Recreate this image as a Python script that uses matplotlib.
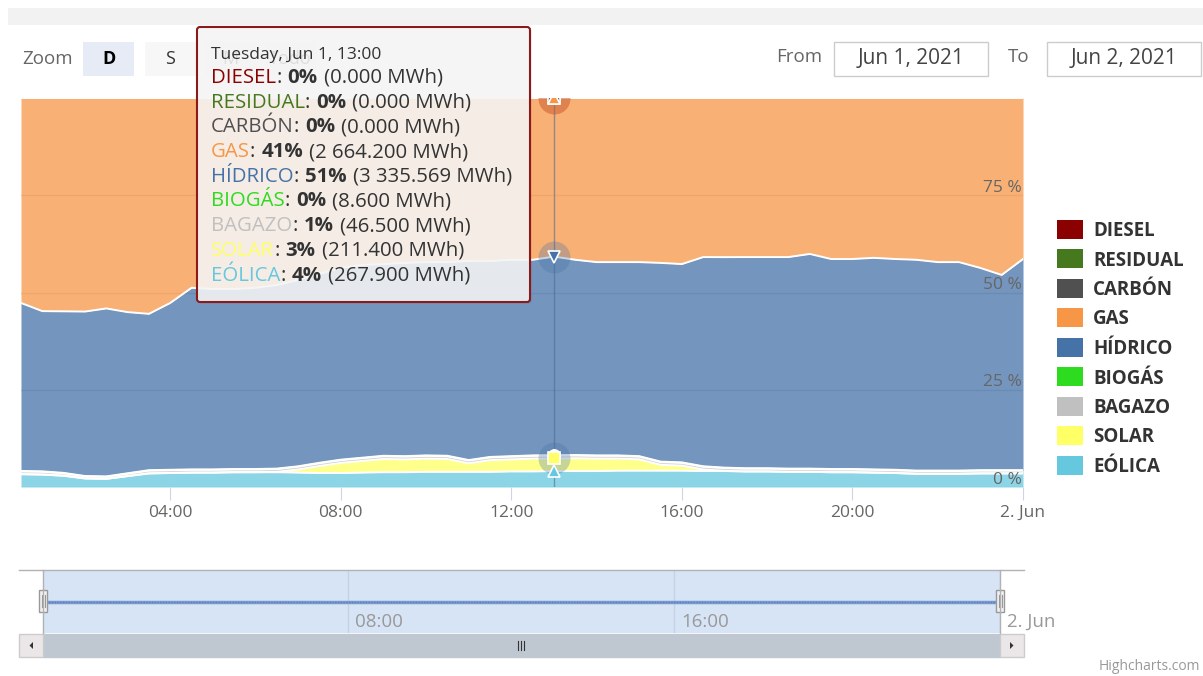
import numpy as np
import matplotlib
matplotlib.use('Agg')
import matplotlib.pyplot as plt
from matplotlib.patches import Rectangle, FancyBboxPatch, Polygon

plt.rcParams['font.family'] = ['Open Sans', 'DejaVu Sans']

W, H = 1203, 676

# 1. data (share of generation, %, every 30 min)
hours = [0.5, 1.0, 1.5, 2.0, 2.5, 3.0, 3.5, 4.0, 4.5, 5.0, 5.5, 6.0,
         6.5, 7.0, 7.5, 8.0, 8.5, 9.0, 9.5, 10.0, 10.5, 11.0, 11.5, 12.0,
         12.5, 13.0, 13.5, 14.0, 14.5, 15.0, 15.5, 16.0, 16.5, 17.0, 17.5, 18.0,
         18.5, 19.0, 19.5, 20.0, 20.5, 21.0, 21.5, 22.0, 22.5, 23.0, 23.5, 24.0]

diesel = [0] * 48
residual = [0] * 48
carbon = [0] * 48
gas = [52.7, 54.8, 54.8, 54.8, 54.0, 55.0, 55.5, 52.7, 48.8, 49.1, 49.1, 48.8,
       48.1, 46.8, 45.2, 43.7, 42.9, 42.7, 42.4, 42.2, 42.2, 41.9, 41.9, 41.6,
       41.6, 40.77, 41.6, 42.2, 42.2, 42.2, 42.4, 42.7, 40.9, 40.9, 40.9, 40.9,
       40.9, 40.1, 41.4, 41.4, 41.1, 41.4, 41.6, 42.2, 42.2, 43.7, 45.5, 41.4]
hidrico = [43.2, 41.2, 41.5, 42.2, 43.1, 41.4, 40.2, 42.9, 46.7, 46.4, 46.3, 46.6,
           47.2, 47.9, 48.6, 49.3, 49.6, 49.3, 49.7, 49.7, 49.8, 51.2, 50.4, 50.5,
           50.3, 51.05, 50.2, 49.7, 49.7, 49.9, 51.1, 51.0, 53.8, 54.1, 54.3, 54.3,
           54.4, 55.2, 54.0, 54.0, 54.4, 54.2, 54.2, 53.6, 53.6, 52.0, 50.2, 54.3]
biogas = [0.13, 0.13, 0.13, 0.12, 0.12, 0.13, 0.13, 0.13, 0.13, 0.13, 0.13, 0.13,
          0.13, 0.13, 0.13, 0.13, 0.13, 0.13, 0.13, 0.13, 0.13, 0.13, 0.13, 0.13,
          0.13, 0.13, 0.13, 0.13, 0.13, 0.13, 0.13, 0.13, 0.13, 0.13, 0.13, 0.13,
          0.13, 0.13, 0.13, 0.13, 0.13, 0.13, 0.13, 0.13, 0.13, 0.13, 0.13, 0.13]
bagazo = [0.7, 0.7, 0.6, 0.5, 0.5, 0.6, 0.7, 0.7, 0.7, 0.7, 0.7, 0.7,
          0.7, 0.7, 0.7, 0.7, 0.7, 0.7, 0.7, 0.7, 0.7, 0.7, 0.7, 0.7,
          0.7, 0.71, 0.7, 0.7, 0.7, 0.7, 0.7, 0.7, 0.7, 0.7, 0.7, 0.7,
          0.7, 0.7, 0.7, 0.7, 0.7, 0.7, 0.7, 0.7, 0.7, 0.7, 0.7, 0.7]
solar = [0, 0, 0, 0, 0, 0, 0, 0, 0, 0, 0, 0,
         0.1, 0.8, 1.8, 2.6, 3.0, 3.4, 3.3, 3.4, 3.3, 2.2, 3.0, 3.1,
         3.3, 3.24, 3.3, 3.2, 3.1, 2.9, 1.5, 1.3, 0.4, 0.05, 0, 0,
         0, 0, 0, 0, 0, 0, 0, 0, 0, 0, 0, 0]
eolica = [3.3, 3.2, 2.9, 2.2, 2.1, 2.8, 3.5, 3.6, 3.7, 3.7, 3.8, 3.8,
          3.8, 3.7, 3.6, 3.6, 3.7, 3.8, 3.8, 3.9, 3.9, 3.9, 3.9, 4.0,
          4.0, 4.1, 4.1, 4.1, 4.2, 4.2, 4.2, 4.2, 4.1, 4.1, 4.0, 4.0,
          3.9, 3.9, 3.8, 3.8, 3.7, 3.6, 3.4, 3.4, 3.4, 3.5, 3.5, 3.5]

names = ['DIESEL', 'RESIDUAL', 'CARBÓN', 'GAS', 'HÍDRICO', 'BIOGÁS', 'BAGAZO', 'SOLAR', 'EÓLICA']
colors = ['#8b0000', '#46781e', '#505050', '#f79646', '#4572a7', '#2edc1f', '#c0c0c0', '#ffff66', '#66c8df']
markers = ['o', 'D', 's', '^', 'v', 'o', 'D', 's', '^']

# tooltip at 13:00
tip_header = 'Tuesday, Jun 1, 13:00'
tip_pct = ['0%', '0%', '0%', '41%', '51%', '0%', '1%', '3%', '4%']
tip_mwh = ['0.000', '0.000', '0.000', '2 664.200', '3 335.569', '8.600', '46.500', '211.400', '267.900']
tip_idx = 25

x_ticks = [4, 8, 12, 16, 20, 24]
x_labels = ['04:00', '08:00', '12:00', '16:00', '20:00', '2. Jun']
y_ticks = [0, 25, 50, 75, 100]
nav_ticks = [8, 16, 24]
nav_labels = ['08:00', '16:00', '2. Jun']

vals = np.array([diesel, residual, carbon, gas, hidrico, biogas, bagazo, solar, eolica], dtype=float)
pct = vals / vals.sum(axis=0) * 100

# 2. figure
fig = plt.figure(figsize=(W / 100, H / 100), dpi=100)

def frac(x0, y0, x1, y1):
    return [x0 / W, 1 - y1 / H, (x1 - x0) / W, (y1 - y0) / H]

ax = fig.add_axes(frac(21, 98, 1023, 487))
ax.set_xlim(0.5, 24)
ax.set_ylim(0, 100)
for s in ax.spines.values():
    s.set_visible(False)
for v in y_ticks:
    ax.axhline(v, color='#d9d9d9', lw=1, zorder=0)

cum = np.zeros(len(hours))
tops = {}
for i in reversed(range(len(names))):
    upper = cum + pct[i]
    ax.fill_between(hours, cum, upper, color=colors[i], alpha=0.75, lw=0, zorder=1)
    ax.plot(hours, upper, color='white', lw=1.4, zorder=2)
    tops[i] = upper[tip_idx]
    cum = upper

ax.axvline(hours[tip_idx], color='#4d6c99', lw=1, alpha=0.6, zorder=3)
# hover halos
for i, hc in [(0, '#8b0000'), (3, '#f79646'), (4, '#4572a7'), (7, '#4572a7')]:
    ax.plot(hours[tip_idx], tops[i], 'o', ms=23, color=hc, alpha=0.3, mew=0, zorder=4)
for i in range(len(names)):
    ax.plot(hours[tip_idx], tops[i], markers[i], ms=8 if markers[i] != 'D' else 6,
            mfc=colors[i], mec='white', mew=1.2, zorder=5)

ax.set_xticks(x_ticks)
ax.set_xticklabels(x_labels)
ax.set_yticks([])
ax.tick_params(axis='x', length=9, color='#ccd6eb', labelcolor='#666666', labelsize=12.5, pad=4)
for v in y_ticks[:-1]:
    ax.annotate('%d %%' % v, (24, v), xytext=(-1, 2.5), textcoords='offset points',
                ha='right', va='baseline', color='#666666', fontsize=12.5, zorder=6)

# navigator
nav = fig.add_axes(frac(43, 570, 1000, 633))
nav.set_xlim(0.5, 24)
nav.set_ylim(0, 200)
nav.set_facecolor('#d6e4f5')
for s in nav.spines.values():
    s.set_visible(False)
nav.set_xticks([])
nav.set_yticks([])
for t in nav_ticks:
    nav.axvline(t, color='#c3d2e6', lw=1)
nav.plot(hours, pct.sum(axis=0), color='#7b9bd0', lw=2.5)
nav.plot(hours, pct.sum(axis=0), color='#5c7fb8', lw=1, ls=(0, (1, 1)))

# overlay in pixel coords
ov = fig.add_axes([0, 0, 1, 1])
ov.set_xlim(0, W)
ov.set_ylim(H, 0)
ov.axis('off')
ov.set_zorder(10)

ov.add_patch(Rectangle((8, 8), W - 8, 17, color='#f2f2f2', lw=0, zorder=1))

# range selector
ov.text(22, 59, 'Zoom', color='#666666', fontsize=13.5, va='center', ha='left', zorder=1)
btns = [('D', 83, '#e6ebf5', 'bold', '#000000'), ('S', 145, '#f7f7f7', 'normal', '#333333'),
        ('M', 205, '#f7f7f7', 'normal', '#333333'), ('Todo', 265, '#f7f7f7', 'normal', '#333333')]
for lab, bx, bc, bw, tc in btns:
    ov.add_patch(Rectangle((bx, 42), 51, 34, color=bc, lw=0, zorder=1))
    ov.text(bx + 25.5, 59, lab, color=tc, fontsize=13, fontweight=bw, ha='center', va='center', zorder=1)

ov.text(822, 57, 'From', color='#666666', fontsize=13.5, ha='right', va='center')
ov.text(1030, 57, 'To', color='#666666', fontsize=13.5, ha='right', va='center')
for bx, lab in [(834, 'Jun 1, 2021'), (1047, 'Jun 2, 2021')]:
    ov.add_patch(Rectangle((bx, 42), 154, 34, fc='white', ec='#cccccc', lw=1))
    ov.text(bx + 77, 58, lab, color='#444444', fontsize=15, ha='center', va='center')

# legend
for i, n in enumerate(names):
    y0 = 219.5 + i * 29.5
    ov.add_patch(Rectangle((1057, y0), 26, 19, color=colors[i], lw=0))
    ov.text(1093, y0 + 16.5, n, color='#333333', fontsize=13.5, fontweight='bold', va='baseline', ha='left')

# navigator chrome
ov.plot([19, 1024], [570, 570], color='#b2b1b6', lw=1)
ov.plot([43, 43], [570, 633], color='#b2b1b6', lw=1)
ov.plot([1000, 1000], [570, 633], color='#b2b1b6', lw=1)
for hx in [43, 1000]:
    ov.add_patch(Rectangle((hx - 4, 590), 8, 22, fc='#f2f2f2', ec='#999999', lw=1))
    ov.plot([hx - 1.5, hx - 1.5], [595, 607], color='#999999', lw=0.8)
    ov.plot([hx + 1.5, hx + 1.5], [595, 607], color='#999999', lw=0.8)
for t, lab in zip(nav_ticks, nav_labels):
    xp = 43 + (t - 0.5) / 23.5 * 957
    ov.text(xp + 7, 622, lab, color='#999999', fontsize=13.5, ha='left', va='center')

ov.add_patch(Rectangle((19, 634), 1005, 23, fc='#f2f2f2', lw=0))
ov.add_patch(Rectangle((43, 634), 957, 23, fc='#bfc8d1', ec='#bfc8d1', lw=1))
for bx in [19, 1000]:
    ov.add_patch(Rectangle((bx, 634), 24, 23, fc='#ebe7e8', ec='#cccccc', lw=1))
ov.add_patch(Polygon([[33, 642], [33, 649], [29.5, 645.5]], color='#333333', lw=0))
ov.add_patch(Polygon([[1010, 642], [1010, 649], [1013.5, 645.5]], color='#333333', lw=0))
for gx in [518, 521, 524]:
    ov.plot([gx, gx], [641, 650], color='#333333', lw=0.8)

ov.text(1200, 667, 'Highcharts.com', color='#999999', fontsize=10, ha='right', va='center')

# tooltip
ov.add_patch(FancyBboxPatch((198.5, 28.5), 333, 275, boxstyle='round,pad=0,rounding_size=3',
                            fc='black', alpha=0.08, lw=0, zorder=5))
ov.add_patch(FancyBboxPatch((197, 27), 333, 275, boxstyle='round,pad=0,rounding_size=3',
                            fc=(0.97, 0.97, 0.97, 0.88), ec='#8b1a1a', lw=1.5, zorder=6))
renderer = fig.canvas.get_renderer()
ov.text(211, 59, tip_header, color='#333333', fontsize=12.5, va='baseline', ha='left', zorder=7)

def run(x, y, parts):
    for s, c, w, gap in parts:
        t = ov.text(x, y, s, color=c, fontweight=w, fontsize=14.7, va='baseline', ha='left', zorder=7)
        x += t.get_window_extent(renderer).width + gap

for i, n in enumerate(names):
    yb = 83 + i * 24.7
    run(211, yb, [(n, colors[i], 'normal', 0), (':', '#333333', 'normal', 6),
                  (tip_pct[i], '#333333', 'bold', 6), ('(%s MWh)' % tip_mwh[i], '#333333', 'normal', 0)])

fig.savefig('out.png', dpi=100)
